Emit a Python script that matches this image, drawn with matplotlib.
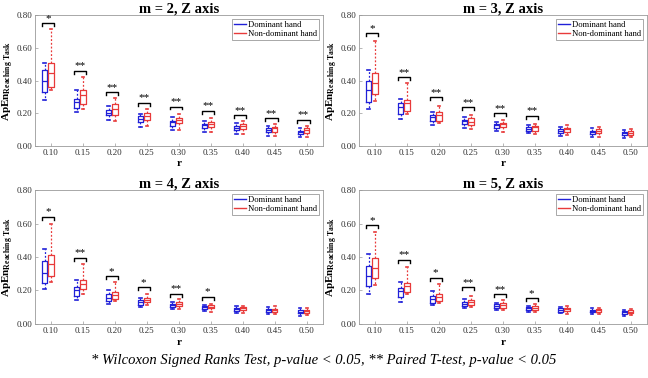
import matplotlib
matplotlib.use('Agg')
import matplotlib.pyplot as plt
from matplotlib.lines import Line2D

plt.rcParams['font.family'] = ['Liberation Serif', 'DejaVu Serif']
plt.rcParams['mathtext.fontset'] = 'custom'
plt.rcParams['mathtext.rm'] = 'Liberation Serif'
plt.rcParams['mathtext.bf'] = 'Liberation Serif:bold'

r_labels = ['0.10', '0.15', '0.20', '0.25', '0.30', '0.35', '0.40', '0.45', '0.50']
titles = ['m = 2, Z axis', 'm = 3, Z axis', 'm = 4, Z axis', 'm = 5, Z axis']

# box statistics, one row per panel (m = 2..5), one column per r
dom_low = [[0.28, 0.205, 0.16, 0.118, 0.10, 0.086, 0.071, 0.061, 0.053],
           [0.227, 0.163, 0.129, 0.11, 0.092, 0.078, 0.063, 0.057, 0.049],
           [0.21, 0.146, 0.122, 0.102, 0.09, 0.078, 0.066, 0.062, 0.05],
           [0.182, 0.13, 0.114, 0.094, 0.086, 0.074, 0.066, 0.058, 0.05]]
dom_q1 = [[0.33, 0.23, 0.186, 0.145, 0.122, 0.11, 0.098, 0.086, 0.073],
          [0.267, 0.196, 0.151, 0.133, 0.11, 0.094, 0.082, 0.073, 0.065],
          [0.242, 0.17, 0.138, 0.114, 0.102, 0.09, 0.08, 0.074, 0.066],
          [0.226, 0.162, 0.126, 0.106, 0.094, 0.082, 0.074, 0.07, 0.062]]
dom_med = [[0.40, 0.27, 0.204, 0.167, 0.145, 0.127, 0.11, 0.10, 0.086],
           [0.339, 0.237, 0.175, 0.151, 0.127, 0.106, 0.094, 0.086, 0.078],
           [0.305, 0.202, 0.158, 0.132, 0.114, 0.10, 0.09, 0.082, 0.074],
           [0.285, 0.198, 0.152, 0.122, 0.11, 0.094, 0.086, 0.078, 0.07]]
dom_q3 = [[0.465, 0.285, 0.22, 0.18, 0.155, 0.135, 0.122, 0.11, 0.094],
          [0.40, 0.26, 0.19, 0.159, 0.135, 0.114, 0.106, 0.094, 0.086],
          [0.377, 0.222, 0.178, 0.142, 0.122, 0.106, 0.098, 0.09, 0.082],
          [0.349, 0.212, 0.166, 0.134, 0.118, 0.102, 0.094, 0.086, 0.078]]
dom_high = [[0.51, 0.34, 0.247, 0.196, 0.175, 0.155, 0.139, 0.12, 0.108],
            [0.465, 0.286, 0.208, 0.175, 0.147, 0.127, 0.118, 0.11, 0.098],
            [0.449, 0.265, 0.20, 0.154, 0.13, 0.114, 0.106, 0.102, 0.098],
            [0.421, 0.25, 0.194, 0.15, 0.126, 0.11, 0.102, 0.094, 0.086]]

nd_low = [[0.34, 0.225, 0.153, 0.122, 0.098, 0.086, 0.071, 0.061, 0.057],
          [0.275, 0.196, 0.143, 0.106, 0.088, 0.073, 0.065, 0.057, 0.053],
          [0.25, 0.182, 0.138, 0.114, 0.09, 0.074, 0.066, 0.058, 0.054],
          [0.234, 0.178, 0.126, 0.102, 0.086, 0.07, 0.062, 0.058, 0.054]]
nd_q1 = [[0.36, 0.255, 0.19, 0.16, 0.139, 0.114, 0.102, 0.088, 0.078],
         [0.315, 0.216, 0.155, 0.129, 0.114, 0.094, 0.086, 0.078, 0.069],
         [0.285, 0.206, 0.15, 0.13, 0.106, 0.094, 0.082, 0.074, 0.066],
         [0.273, 0.192, 0.138, 0.114, 0.098, 0.086, 0.078, 0.07, 0.066]]
nd_med = [[0.447, 0.31, 0.227, 0.18, 0.159, 0.135, 0.122, 0.108, 0.098],
          [0.384, 0.261, 0.188, 0.147, 0.131, 0.114, 0.102, 0.094, 0.082],
          [0.357, 0.238, 0.172, 0.146, 0.118, 0.104, 0.094, 0.084, 0.078],
          [0.337, 0.226, 0.162, 0.13, 0.114, 0.098, 0.09, 0.082, 0.074]]
nd_q3 = [[0.51, 0.34, 0.255, 0.20, 0.171, 0.147, 0.131, 0.118, 0.108],
         [0.449, 0.282, 0.21, 0.171, 0.139, 0.122, 0.11, 0.102, 0.09],
         [0.413, 0.261, 0.19, 0.158, 0.13, 0.112, 0.102, 0.092, 0.086],
         [0.397, 0.242, 0.178, 0.146, 0.126, 0.106, 0.098, 0.088, 0.082]]
nd_high = [[0.714, 0.42, 0.29, 0.225, 0.194, 0.17, 0.151, 0.133, 0.122],
           [0.641, 0.384, 0.245, 0.19, 0.159, 0.137, 0.127, 0.114, 0.102],
           [0.60, 0.361, 0.25, 0.182, 0.15, 0.122, 0.11, 0.106, 0.098],
           [0.549, 0.341, 0.238, 0.17, 0.142, 0.118, 0.106, 0.098, 0.09]]

# significance markers: bracket height and label ('' = none)
sig_y = [[0.751, 0.459, 0.329, 0.265, 0.241, 0.214, 0.186, 0.169, 0.159],
         [0.69, 0.42, 0.298, 0.237, 0.20, 0.184, 0, 0, 0],
         [0.641, 0.397, 0.285, 0.218, 0.182, 0.162, 0, 0, 0],
         [0.589, 0.385, 0.277, 0.218, 0.178, 0.154, 0, 0, 0]]
sig_txt = [['*', '**', '**', '**', '**', '**', '**', '**', '**'],
           ['*', '**', '**', '**', '**', '**', '', '', ''],
           ['*', '**', '*', '*', '**', '*', '', '', ''],
           ['*', '**', '*', '**', '**', '*', '', '', '']]

blue = '#2020d8'
red = '#e83a3a'
grey = '#9a9a9a'

fig = plt.figure(figsize=(6.48, 3.78), dpi=100)
rects = [[0.054, 0.614, 0.444, 0.346], [0.554, 0.614, 0.444, 0.346],
         [0.054, 0.143, 0.444, 0.354], [0.554, 0.143, 0.444, 0.354]]


def make_stats(low, q1, med, q3, high):
    return [dict(whislo=a, q1=b, med=c, q3=d, whishi=e, fliers=[])
            for a, b, c, d, e in zip(low, q1, med, q3, high)]


for p in range(4):
    ax = fig.add_axes(rects[p])
    xs = list(range(1, 10))
    for stats, off, col in [(make_stats(dom_low[p], dom_q1[p], dom_med[p], dom_q3[p], dom_high[p]), -0.2, blue),
                            (make_stats(nd_low[p], nd_q1[p], nd_med[p], nd_q3[p], nd_high[p]), 0.0, red)]:
        ax.bxp(stats, positions=[x + off for x in xs], widths=0.17, showfliers=False,
               boxprops=dict(color=col, linewidth=0.9),
               medianprops=dict(color=col, linewidth=0.9),
               whiskerprops=dict(color=col, linewidth=0.9, linestyle=(0, (1.5, 1.5))),
               capprops=dict(color=col, linewidth=1.2), capwidths=0.07,
               manage_ticks=False)

    for i, x in enumerate(xs):
        if sig_txt[p][i]:
            y = sig_y[p][i]
            ax.plot([x - 0.29, x - 0.29, x + 0.09, x + 0.09], [y - 0.018, y, y, y - 0.018],
                    color='k', linewidth=1.0)
            ax.text(x - 0.1, y + 0.002, sig_txt[p][i], ha='center', va='bottom', fontsize=8)

    ax.set_xlim(0.5, 9.5)
    ax.set_ylim(0, 0.8)
    ax.set_xticks(xs)
    ax.set_xticklabels(r_labels)
    ax.set_yticks([0, 0.2, 0.4, 0.6, 0.8])
    ax.set_yticklabels(['0.00', '0.20', '0.40', '0.60', '0.80'])
    ax.tick_params(direction='in', length=2.5, width=0.5, colors=grey, labelcolor='#303030',
                   labelsize=6.5, pad=2)
    for s in ax.spines.values():
        s.set_color(grey)
        s.set_linewidth(0.6)
    ax.set_title(titles[p], fontsize=10.5, fontweight='bold', pad=2)
    ax.set_xlabel('r', fontsize=8, fontweight='bold', labelpad=2)
    ax.set_ylabel(r'$\mathbf{ApEn}_{\mathbf{Reaching\ Task}}$', fontsize=8)
    ax.yaxis.set_label_coords(-0.066, 0.5)

    handles = [Line2D([], [], color=blue, linewidth=1), Line2D([], [], color=red, linewidth=1)]
    leg = ax.legend(handles, ['Dominant hand', 'Non-dominant hand'], loc='upper right',
                    fontsize=6.2, fancybox=False, framealpha=1, edgecolor=grey,
                    handlelength=1.4, handletextpad=0.2, borderpad=0.25, labelspacing=0.1,
                    borderaxespad=0.4)
    leg.get_frame().set_linewidth(0.6)

fig.text(0.5, 0.047, '* Wilcoxon Signed Ranks Test, p-value < 0.05, ** Paired T-test, p-value < 0.05',
         ha='center', va='center', fontsize=10.5, style='italic')

fig.savefig('out.png', dpi=100)
